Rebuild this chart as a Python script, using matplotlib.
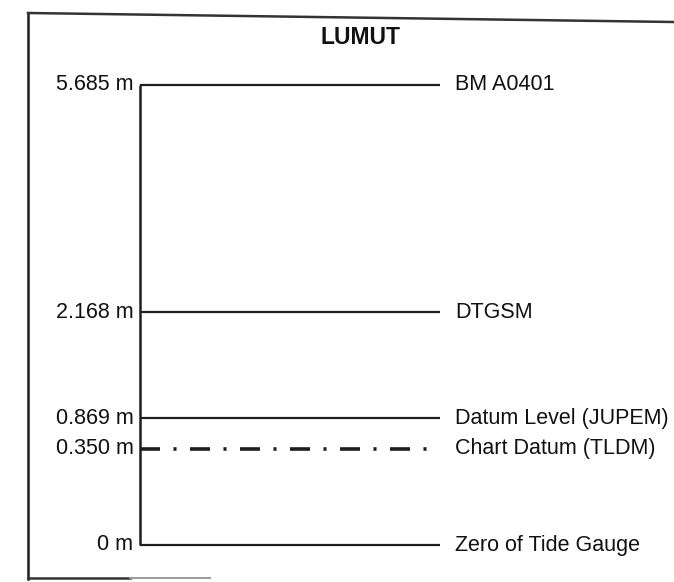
import numpy as np
import matplotlib
matplotlib.use("Agg")
import matplotlib.pyplot as plt
from matplotlib.lines import Line2D

# ---- data ----
title = "LUMUT"
levels = [5.685, 2.168, 0.869, 0.350, 0.0]
value_labels = ["5.685 m", "2.168 m", "0.869 m", "0.350 m", "0 m"]
names = ["BM A0401", "DTGSM", "Datum Level (JUPEM)", "Chart Datum (TLDM)", "Zero of Tide Gauge"]
styles = ["solid", "solid", "solid", "dashdot", "solid"]

# schematic (not-to-scale) placement of the levels on the vertical axis
sched_vals = np.array([0.0, 0.350, 0.869, 2.168, 5.685])
sched_pos = np.array([0.0, 0.2087, 0.276, 0.5065, 1.0])

def fwd(v):
    return np.interp(np.asarray(v, dtype=float), sched_vals, sched_pos)

def inv(u):
    return np.interp(np.asarray(u, dtype=float), sched_pos, sched_vals)

plt.rcParams['font.family'] = ['Liberation Sans', 'DejaVu Sans']
plt.rcParams['lines.scale_dashes'] = False

W, H = 674, 582
fig = plt.figure(figsize=(W / 100, H / 100), dpi=100)
fig.patch.set_facecolor("white")

# axes spanning the line region: x 140..440 px, y 85..545 px (from top)
ax = fig.add_axes([140 / W, (H - 545) / H, 300 / W, (545 - 85) / H])
ax.set_yscale('function', functions=(fwd, inv))
ax.set_ylim(0, 5.685)
ax.set_xlim(0, 1)
ax.axis('off')

col = "#1e1e1e"
fs = 15.5

# vertical axis
ax.plot([0, 0], [min(levels), max(levels)], color=col, lw=1.8, clip_on=False,
        solid_capstyle='butt')

for lv, vl, nm, st in zip(levels, value_labels, names, styles):
    if st == "dashdot":
        ln, = ax.plot([0, 0.967], [lv, lv], color=col, lw=2.6, clip_on=False,
                      solid_capstyle='butt', dash_capstyle='butt')
        ln.set_dashes([14.4, 9.7, 2.2, 9.7])
    else:
        ax.plot([0, 1], [lv, lv], color=col, lw=1.6, clip_on=False,
                solid_capstyle='butt')
    ax.text(-0.022, lv, vl, ha='right', va='center', fontsize=fs, color="#111111")
    ax.text(1.05, lv, nm, ha='left', va='center', fontsize=fs, color="#111111")

# title
fig.text(360 / W, 1 - 38 / H, title, ha='center', va='center', fontsize=16.5,
         fontweight='bold', color="#111111")

# outer frame (scanned box: left, slanted top, partial bottom)
fig.add_artist(Line2D([28 / W, 28 / W], [1 - 13 / H, 1 - 579 / H],
                      transform=fig.transFigure, color=col, lw=1.8))
fig.add_artist(Line2D([28 / W, 1.0], [1 - 13 / H, 1 - 22 / H],
                      transform=fig.transFigure, color="#333333", lw=1.8))
fig.add_artist(Line2D([28 / W, 130 / W], [1 - 578 / H, 1 - 578 / H],
                      transform=fig.transFigure, color="#333333", lw=1.8))
fig.add_artist(Line2D([130 / W, 210 / W], [1 - 578 / H, 1 - 578 / H],
                      transform=fig.transFigure, color="#999999", lw=1.4))

fig.savefig("out.png", dpi=100, facecolor="white")
